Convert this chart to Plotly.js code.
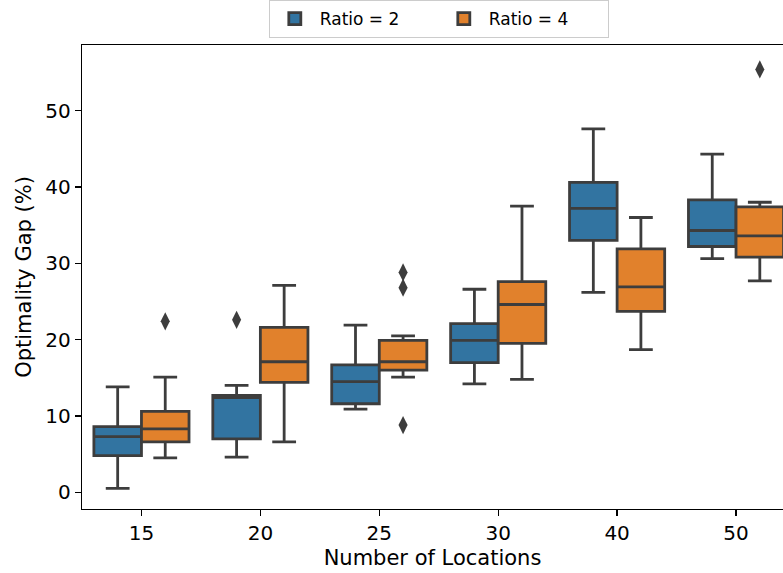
<!DOCTYPE html>
<html>
<head>
<meta charset="utf-8">
<script src="https://cdn.plot.ly/plotly-3.0.1.min.js"></script>
<style>html,body{margin:0;padding:0;background:#fff;}#chart{width:783px;height:573px;}</style>
</head>
<body>
<div id="chart"></div>
<script>
// Categories (Number of Locations)
const categories = ['15', '20', '25', '30', '40', '50'];
const positions = [0, 1, 2, 3, 4, 5];

// Ratio = 2 box statistics
const r2_upper  = [13.8, 14.0, 21.9, 26.6, 47.6, 44.3];
const r2_q3     = [8.6, 12.7, 16.7, 22.1, 40.6, 38.3];
const r2_median = [7.3, 12.4, 14.5, 19.9, 37.2, 34.3];
const r2_q1     = [4.8, 7.0, 11.6, 17.0, 33.0, 32.2];
const r2_lower  = [0.5, 4.6, 10.9, 14.2, 26.2, 30.6];
// Ratio = 2 outliers
const r2_out_cat = [1];
const r2_out_val = [22.6];

// Ratio = 4 box statistics
const r4_upper  = [15.1, 27.1, 20.5, 37.5, 36.0, 38.0];
const r4_q3     = [10.6, 21.6, 19.9, 27.6, 31.9, 37.4];
const r4_median = [8.3, 17.1, 17.1, 24.6, 26.9, 33.6];
const r4_q1     = [6.6, 14.4, 16.0, 19.5, 23.7, 30.8];
const r4_lower  = [4.5, 6.6, 15.1, 14.8, 18.7, 27.7];
// Ratio = 4 outliers
const r4_out_cat = [0, 2, 2, 2, 5];
const r4_out_val = [22.4, 28.8, 26.8, 8.8, 55.4];

const BLUE = '#3274a1', ORANGE = '#e1812c', GRAY = '#3d3d3d';
const HALF = 0.2; // hue offset of each box within a category

const traces = [
  {
    type: 'box', name: 'Ratio = 2', x: positions,
    q1: r2_q1, median: r2_median, q3: r2_q3,
    lowerfence: r2_lower, upperfence: r2_upper,
    fillcolor: BLUE, line: {color: GRAY, width: 2.8},
    whiskerwidth: 0.5, boxpoints: false, hoverinfo: 'skip'
  },
  {
    type: 'box', name: 'Ratio = 4', x: positions,
    q1: r4_q1, median: r4_median, q3: r4_q3,
    lowerfence: r4_lower, upperfence: r4_upper,
    fillcolor: ORANGE, line: {color: GRAY, width: 2.8},
    whiskerwidth: 0.5, boxpoints: false, hoverinfo: 'skip'
  },
  {
    type: 'scatter', mode: 'markers', showlegend: false, hoverinfo: 'skip',
    x: r2_out_cat.map(c => positions[c] - HALF), y: r2_out_val,
    marker: {symbol: 'diamond-tall', size: 13, color: GRAY}
  },
  {
    type: 'scatter', mode: 'markers', showlegend: false, hoverinfo: 'skip',
    x: r4_out_cat.map(c => positions[c] + HALF), y: r4_out_val,
    marker: {symbol: 'diamond-tall', size: 13, color: GRAY}
  }
];

const layout = {
  width: 783, height: 573,
  margin: {l: 82, r: 0, t: 45, b: 64},
  paper_bgcolor: '#fff', plot_bgcolor: '#fff',
  font: {family: 'DejaVu Sans', size: 20, color: '#000'},
  boxmode: 'group', boxgap: 0.2, boxgroupgap: 0,
  showlegend: true,
  legend: {
    orientation: 'h', x: 0.509, xanchor: 'center', y: 1.015, yanchor: 'bottom',
    bordercolor: '#cccccc', borderwidth: 1, bgcolor: '#fff',
    entrywidth: 114, itemwidth: 40,
    font: {family: 'DejaVu Sans', size: 17}
  },
  xaxis: {
    range: [-0.5, 5.395], tickvals: positions, ticktext: categories,
    showline: true, linecolor: '#000', linewidth: 1.3, mirror: true,
    ticks: 'outside', ticklen: 6, tickwidth: 1.3, tickcolor: '#000',
    showgrid: false, zeroline: false,
    tickfont: {size: 20},
    title: {text: 'Number of Locations', font: {size: 21}, standoff: 6}
  },
  yaxis: {
    range: [-2.19, 58.6], tickvals: [0, 10, 20, 30, 40, 50],
    showline: true, linecolor: '#000', linewidth: 1.3, mirror: false,
    ticks: 'outside', ticklen: 6, tickwidth: 1.3, tickcolor: '#000',
    showgrid: false, zeroline: false,
    tickfont: {size: 20},
    title: {text: 'Optimality Gap (%)', font: {size: 21}, standoff: 8}
  }
};

Plotly.newPlot('chart', traces, layout, {staticPlot: true, displayModeBar: false});
</script>
</body>
</html>
